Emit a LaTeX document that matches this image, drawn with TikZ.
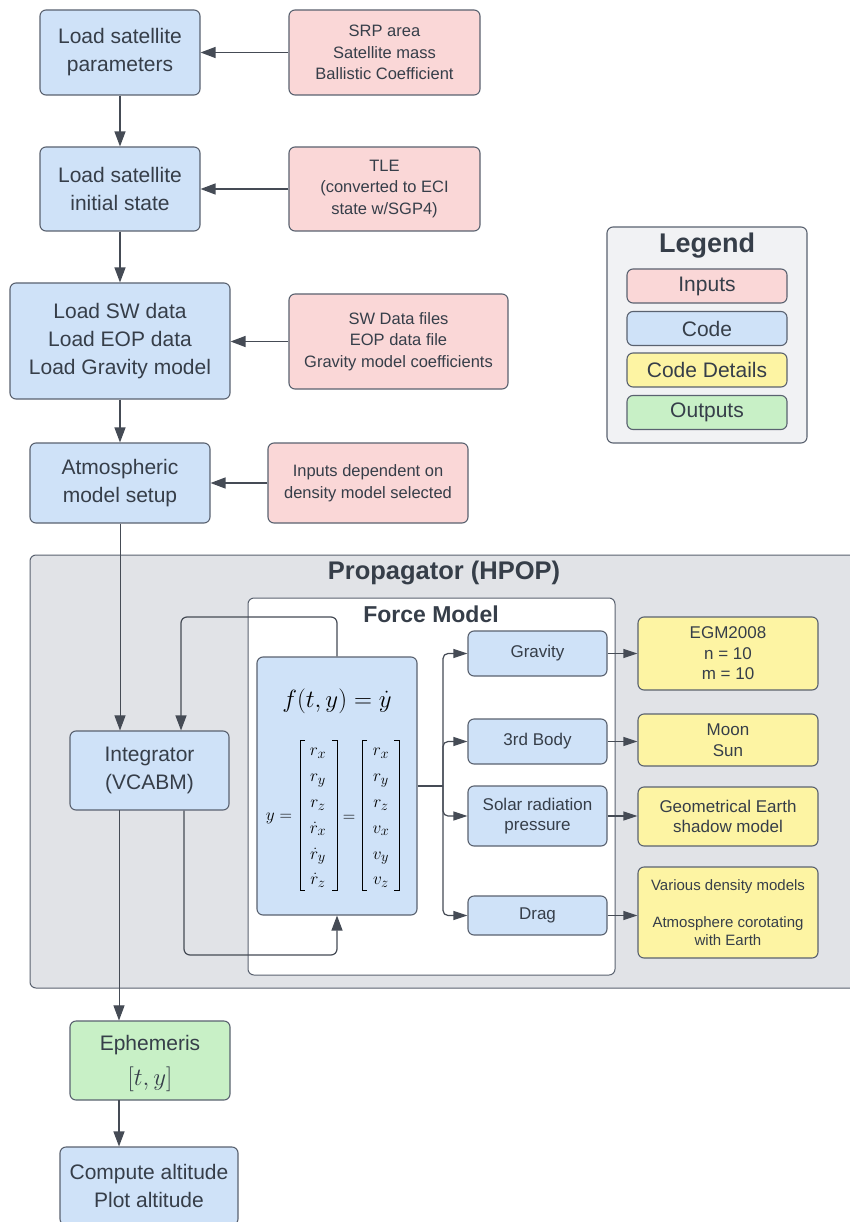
\documentclass[tikz,border=0pt]{standalone}
\usepackage{amsmath}
\usepackage{fontspec}
\setmainfont{Liberation Sans}
\usetikzlibrary{arrows.meta}
\definecolor{bluef}{HTML}{CFE2F8}
\definecolor{pinkf}{HTML}{FAD7D7}
\definecolor{yelf}{HTML}{FDF4A3}
\definecolor{grnf}{HTML}{C8F0C6}
\definecolor{propf}{HTML}{E1E3E7}
\definecolor{legf}{HTML}{F1F2F4}
\definecolor{edgec}{HTML}{5A6270}
\definecolor{lnc}{HTML}{454B55}
\definecolor{txtc}{HTML}{363E49}
\newcommand\fsMain{\fontsize{21}{28}\selectfont}
\newcommand\fsIn{\fontsize{16.5}{21.5}\selectfont}
\newcommand\fsSub{\fontsize{17}{20.5}\selectfont}
\newcommand\fsSmall{\fontsize{15}{18}\selectfont}
\tikzset{
  box/.style={draw=edgec, line width=1.1pt, rounded corners=6pt, align=center, text=txtc, inner sep=0pt},
  codebox/.style={box, fill=bluef},
  inbox/.style={box, fill=pinkf, font=\fsIn},
  detbox/.style={box, fill=yelf, font=\fsSub},
  outbox/.style={box, fill=grnf},
  arr/.style={draw=lnc, line width=1.2pt, -{Triangle[length=15pt,width=11pt]}},
  smallarr/.style={draw=lnc, line width=1.2pt, -{Triangle[length=14pt,width=9pt]}},
  thinarr/.style={draw=lnc, line width=0.9pt, -{Triangle[length=15pt,width=11pt]}},
  legitem/.style={box, minimum width=160pt, minimum height=34pt, font=\fontsize{21}{24}\selectfont},
  matcol/.style={text=black, align=center, inner sep=0pt, font=\fontsize{19}{25.8}\selectfont},
  brk/.style={draw=black, line width=1pt},
}
\begin{document}
\begin{tikzpicture}[x=1pt,y=-1pt]
\useasboundingbox (0,0) rectangle (849,1222);
\fill[white] (0,0) rectangle (849,1222);

% top flow
\node[codebox, minimum width=160pt, minimum height=85pt, font=\fsMain] (p1) at (120,52.5) {Load satellite\\parameters};
\node[inbox, minimum width=191pt, minimum height=85pt] (i1) at (384.5,52.5) {SRP area\\Satellite mass\\Ballistic Coefficient};
\node[codebox, minimum width=160pt, minimum height=84pt, font=\fsMain] (p2) at (120,189) {Load satellite\\initial state};
\node[inbox, minimum width=191pt, minimum height=84pt] (i2) at (384.5,189) {TLE\\(converted to ECI\\state w/SGP4)};
\node[codebox, minimum width=220pt, minimum height=116pt, font=\fsMain] (p3) at (120,341) {Load SW data\\Load EOP data\\Load Gravity model};
\node[inbox, minimum width=219pt, minimum height=95pt] (i3) at (398.5,341.5) {SW Data files\\EOP data file\\Gravity model coefficients};
\node[codebox, minimum width=180pt, minimum height=80pt, font=\fsMain] (p4) at (120,483) {Atmospheric\\model setup};
\node[inbox, minimum width=200pt, minimum height=80pt] (i4) at (368,483) {Inputs dependent on\\density model selected};

\draw[arr] (i1.west) -- (p1.east |- i1.west);
\draw[arr] (p1.south) -- (p2.north);
\draw[arr] (i2.west) -- (p2.east |- i2.west);
\draw[arr] (p2.south) -- (p3.north);
\draw[arr] (i3.west) -- (p3.east |- i3.west);
\draw[arr] (p3.south) -- (p4.north);
\draw[arr] (i4.west) -- (p4.east |- i4.west);

% legend
\node[box, fill=legf, minimum width=200pt, minimum height=216pt] (leg) at (707,335) {};
\node[text=txtc, font=\bfseries\fontsize{27}{30}\selectfont] (legt) at (707,246) {Legend};
\node[legitem, fill=pinkf] (l1) at (707,286) {Inputs};
\node[legitem, fill=bluef] (l2) at (707,328.5) {Code};
\node[legitem, fill=yelf] (l3) at (707,370) {Code Details};
\node[legitem, fill=grnf] (l4) at (707,412.5) {Outputs};

% propagator
\node[box, fill=propf, line width=1pt, minimum width=840pt, minimum height=433pt] (prop) at (450,771.5) {};
\node[text=txtc, font=\bfseries\fontsize{25.5}{28}\selectfont] (propt) at (444,573) {Propagator (HPOP)};
\node[box, fill=white, line width=1pt, minimum width=367pt, minimum height=377pt] (force) at (431.5,786.5) {};
\node[text=txtc, font=\bfseries\fontsize{23}{26}\selectfont] (forcet) at (431,614) {Force Model};

\node[codebox, minimum width=159pt, minimum height=79pt, font=\fsMain] (integ) at (149.5,770.5) {Integrator\\(VCABM)};
\node[codebox, minimum width=160pt, minimum height=258pt] (eq) at (337,786) {};
\node[text=black, font=\fontsize{23}{26}\selectfont] (eqf) at (337,701) {$f(t,y)=\dot{y}$};
% state vector
\node[text=black, inner sep=0pt, font=\fontsize{19}{23}\selectfont] (ylab) at (279,818) {$y=$};
\node[matcol] (col1) at (318,818) {$r_x$\\$r_y$\\$r_z$\\$\dot{r}_x$\\$\dot{r}_y$\\$\dot{r}_z$};
\node[text=black, inner sep=0pt, font=\fontsize{19}{23}\selectfont] (eqs) at (349,818) {$=$};
\node[matcol] (col2) at (381,818) {$r_x$\\$r_y$\\$r_z$\\$v_x$\\$v_y$\\$v_z$};
\draw[brk] (305,740) -- (300,740) -- (300,890) -- (305,890);
\draw[brk] (332,740) -- (337,740) -- (337,890) -- (332,890);
\draw[brk] (367,740) -- (362,740) -- (362,890) -- (367,890);
\draw[brk] (394,740) -- (399,740) -- (399,890) -- (394,890);

\node[codebox, minimum width=139pt, minimum height=45pt, font=\fsSub] (grav) at (537.5,653.5) {Gravity};
\node[codebox, minimum width=139pt, minimum height=45pt, font=\fsSub] (body) at (537.5,741.5) {3rd Body};
\node[codebox, minimum width=139pt, minimum height=60pt, font=\fsSub] (srp) at (537.5,816) {Solar radiation\\pressure};
\node[codebox, minimum width=139pt, minimum height=39pt, font=\fsSub] (drag) at (537.5,915.5) {Drag};

\node[detbox, minimum width=180pt, minimum height=73pt] (egm) at (728,653.5) {EGM2008\\n = 10\\m = 10};
\node[detbox, minimum width=180pt, minimum height=52pt] (moon) at (728,740) {Moon\\Sun};
\node[detbox, minimum width=180pt, minimum height=59pt] (geom) at (728,816.5) {Geometrical Earth\\shadow model};
\node[detbox, minimum width=180pt, minimum height=91pt, font=\fsSmall] (var) at (728,912.5) {Various density models\\[19pt]Atmosphere corotating\\with Earth};

\node[outbox, minimum width=160pt, minimum height=79pt] (eph) at (150,1060.5) {};
\node[text=txtc, font=\fsMain] (epht) at (150,1045) {Ephemeris};
\node[text=txtc, font=\fontsize{24}{26}\selectfont] (ephm) at (150,1079) {$[t,y]$};
\node[codebox, minimum width=178pt, minimum height=78pt, font=\fsMain] (comp) at (149,1186) {Compute altitude\\Plot altitude};

% connectors in propagator
\coordinate (fbT) at (181,617);
\coordinate (fbB) at (184,955);
\coordinate (br) at (443,786);
\draw[thinarr] (p4.south) -- (p4.south |- integ.north);
\draw[arr, rounded corners=6pt] (eq.north) |- (fbT) -- (fbT |- integ.north);
\draw[arr, rounded corners=6pt] (fbB |- integ.south) -- (fbB) -- (eq.south |- fbB) -- (eq.south);
\draw[draw=lnc, line width=1.2pt] (eq.east) -- (br);
\draw[smallarr, rounded corners=5pt] (br) |- (grav.west);
\draw[smallarr, rounded corners=5pt] (br) |- (body.west);
\draw[smallarr, rounded corners=5pt] (br) |- (srp.west);
\draw[smallarr, rounded corners=5pt] (br) |- (drag.west);
\draw[smallarr] (grav.east) -- (egm.west |- grav.east);
\draw[smallarr] (body.east) -- (moon.west |- body.east);
\draw[smallarr] (srp.east) -- (geom.west |- srp.east);
\draw[smallarr] (drag.east) -- (var.west |- drag.east);

\coordinate (ob) at (119,810);
\draw[thinarr] (ob) -- (ob |- eph.north);
\coordinate (eb) at (119,1100);
\draw[arr] (eb) -- (eb |- comp.north);
\end{tikzpicture}
\end{document}
